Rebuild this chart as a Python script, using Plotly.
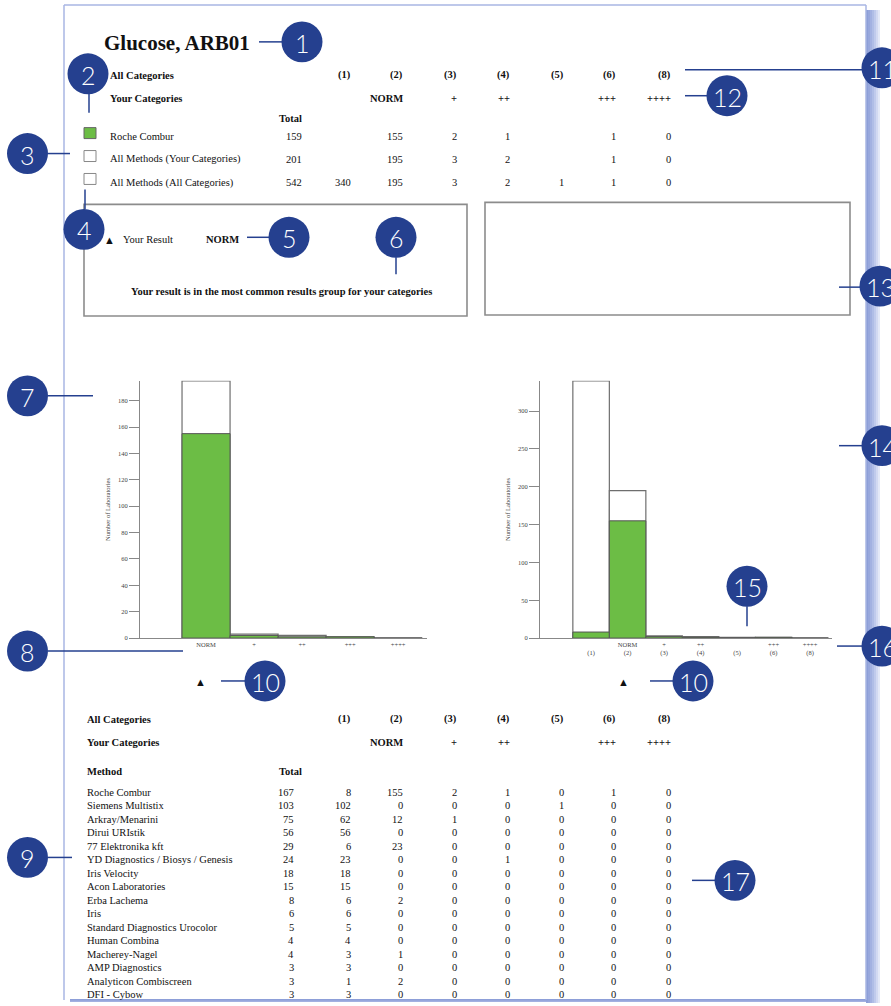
import plotly.graph_objects as go

# ---------------- data ----------------
title_text = "Glucose, ARB01"
all_cat_labels = ["(1)", "(2)", "(3)", "(4)", "(5)", "(6)", "(8)"]
your_cat_labels = ["", "NORM", "+", "++", "", "+++", "++++"]

summary_names = ["Roche Combur", "All Methods (Your Categories)", "All Methods (All Categories)"]
summary_totals = [159, 201, 542]
summary_roche = [None, 155, 2, 1, None, 1, 0]
summary_your = [None, 195, 3, 2, None, 1, 0]
summary_all = [340, 195, 3, 2, 1, 1, 0]

your_result = "NORM"
result_message = "Your result is in the most common results group for your categories"

# left chart (your categories)
left_cats = ["NORM", "+", "++", "+++", "++++"]
left_all_methods = [195, 3, 2, 1, 0]
left_roche = [155, 2, 1, 1, 0]

# right chart (all categories)
right_cats = [" <br>(1)", "NORM<br>(2)", "+<br>(3)", "++<br>(4)", " <br>(5)", "+++<br>(6)", "++++<br>(8)"]
right_all_methods = [340, 195, 3, 2, 1, 1, 0]
right_roche = [8, 155, 2, 1, 0, 1, 0]

methods = ["Roche Combur", "Siemens Multistix", "Arkray/Menarini", "Dirui URIstik",
           "77 Elektronika kft", "YD Diagnostics / Biosys / Genesis", "Iris Velocity",
           "Acon Laboratories", "Erba Lachema", "Iris", "Standard Diagnostics Urocolor",
           "Human Combina", "Macherey-Nagel", "AMP Diagnostics", "Analyticon Combiscreen",
           "DFI - Cybow"]
method_totals = [167, 103, 75, 56, 29, 24, 18, 15, 8, 6, 5, 4, 4, 3, 3, 3]
cat1 = [8, 102, 62, 56, 6, 23, 18, 15, 6, 6, 5, 4, 3, 3, 1, 3]
cat2 = [155, 0, 12, 0, 23, 0, 0, 0, 2, 0, 0, 0, 1, 0, 2, 0]
cat3 = [2, 0, 1, 0, 0, 0, 0, 0, 0, 0, 0, 0, 0, 0, 0, 0]
cat4 = [1, 0, 0, 0, 0, 1, 0, 0, 0, 0, 0, 0, 0, 0, 0, 0]
cat5 = [0, 1, 0, 0, 0, 0, 0, 0, 0, 0, 0, 0, 0, 0, 0, 0]
cat6 = [1, 0, 0, 0, 0, 0, 0, 0, 0, 0, 0, 0, 0, 0, 0, 0]
cat8 = [0, 0, 0, 0, 0, 0, 0, 0, 0, 0, 0, 0, 0, 0, 0, 0]

# ---------------- styling / layout helpers ----------------
W, H = 891, 1006
SERIF = "Liberation Serif"
NAVY = "#25408f"
GREEN = "#6cbd45"
FRAME = "#a9b6e3"
TEXT_DY = 2.5   # serif glyphs sit high in their line box


def X(p):
    return p / W


def Y(p):
    return 1 - p / H


annotations = []
shapes = []


def txt(x, y, text, size=10.5, bold=False, anchor="left", color="#111", family=SERIF):
    if bold:
        text = "<b>" + text + "</b>"
    annotations.append(dict(xref="paper", yref="paper", x=X(x), y=Y(y + TEXT_DY), text=text,
                            showarrow=False, xanchor=anchor, yanchor="middle",
                            font=dict(family=family, size=size, color=color)))


def rect(x0, y0, x1, y1, line="#888", width=1.5, fill="rgba(0,0,0,0)", layer="above"):
    shapes.append(dict(type="rect", xref="paper", yref="paper", x0=X(x0), x1=X(x1),
                       y0=Y(y0), y1=Y(y1), line=dict(color=line, width=width),
                       fillcolor=fill, layer=layer))


def line(x0, y0, x1, y1, color=NAVY, width=1.5, layer="above"):
    shapes.append(dict(type="line", xref="paper", yref="paper", x0=X(x0), x1=X(x1),
                       y0=Y(y0), y1=Y(y1), line=dict(color=color, width=width), layer=layer))


# ---------------- page frame ----------------
shadow_cols = ["#8d9fd8", "#97a7dc", "#a3b1e1", "#b0bde6", "#c0caec", "#d2d9f2", "#e4e8f7"]
for i, c in enumerate(shadow_cols):
    x0 = 866 + i * 2
    rect(x0, 10, x0 + 2, 1006, line=c, width=0, fill=c, layer="below")
for i, c in enumerate(shadow_cols[:3]):
    rect(70, 1002 + i, 866, 1003 + i, line=c, width=0, fill=c, layer="below")
line(64, 5, 866, 5, color=FRAME, width=1.5, layer="below")
line(64, 5, 64, 1003, color=FRAME, width=1.5, layer="below")
line(866, 5, 866, 1003, color=FRAME, width=1.5, layer="below")

# ---------------- title ----------------
txt(102, 41, title_text, size=21, bold=True)

# ---------------- summary table ----------------
col_right = [353, 405, 459, 512, 566, 618, 673]
txt(108, 73, "All Categories", bold=True)
txt(108, 96, "Your Categories", bold=True)
for cx, lab, ylab in zip(col_right, all_cat_labels, your_cat_labels):
    txt(cx, 73, lab, bold=True, anchor="right")
    if ylab:
        txt(cx, 96, ylab, bold=True, anchor="right")
txt(304, 116, "Total", bold=True, anchor="right")
row_y = [134, 157, 181]
for ry, name, tot, vals in zip(row_y, summary_names, summary_totals,
                               [summary_roche, summary_your, summary_all]):
    txt(108, ry, name)
    txt(304, ry, str(tot), anchor="right")
    for cx, v in zip(col_right, vals):
        if v is not None:
            txt(cx, ry, str(v), anchor="right")
# key boxes
rect(84, 128, 96, 139, line="#666", width=1, fill=GREEN)
rect(84, 151, 96, 162, line="#888", width=1, fill="white")
rect(84, 174, 96, 185, line="#888", width=1, fill="white")

# ---------------- result boxes ----------------
rect(84, 205, 467, 317, line="#8c8c8c", width=1.6)
rect(485, 203, 850, 316, line="#8c8c8c", width=1.6)
txt(102, 238, "▲", size=11)
txt(121, 238, "Your Result")
txt(204, 238, your_result, bold=True)
txt(281, 290, result_message, bold=True, anchor="center")

# ---------------- bottom table ----------------
txt(85, 719, "All Categories", bold=True)
txt(85, 742, "Your Categories", bold=True)
for cx, lab, ylab in zip(col_right, all_cat_labels, your_cat_labels):
    txt(cx, 719, lab, bold=True, anchor="right")
    if ylab:
        txt(cx, 742, ylab, bold=True, anchor="right")
txt(85, 771, "Method", bold=True)
txt(304, 771, "Total", bold=True, anchor="right")
cols = [cat1, cat2, cat3, cat4, cat5, cat6, cat8]
for i, name in enumerate(methods):
    ry = 792 + i * 13.55
    txt(85, ry, name)
    txt(296, ry, str(method_totals[i]), anchor="right")
    for cx, col in zip(col_right, cols):
        txt(cx, ry, str(col[i]), anchor="right")

# ---------------- charts ----------------
fig = go.Figure()
left_x = list(range(len(left_cats)))
right_x = list(range(len(right_cats)))

fig.add_trace(go.Bar(x=left_x, y=left_all_methods, width=1, xaxis="x", yaxis="y",
                     marker=dict(color="white", line=dict(color="#6e6e6e", width=1.2)),
                     name="All Methods"))
fig.add_trace(go.Bar(x=left_x, y=left_roche, width=1, xaxis="x", yaxis="y",
                     marker=dict(color=GREEN, line=dict(color="#555", width=1)),
                     name="Roche Combur"))
fig.add_trace(go.Bar(x=right_x, y=right_all_methods, width=1, xaxis="x2", yaxis="y2",
                     marker=dict(color="white", line=dict(color="#6e6e6e", width=1.2)),
                     name="All Methods"))
fig.add_trace(go.Bar(x=right_x, y=right_roche, width=1, xaxis="x2", yaxis="y2",
                     marker=dict(color=GREEN, line=dict(color="#555", width=1)),
                     name="Roche Combur"))

tick_font = dict(family=SERIF, size=6.5, color="#444")
ydom = [Y(640), Y(382)]
common_x = dict(showgrid=False, zeroline=False, showline=True, linecolor="#888",
                linewidth=1, ticks="", tickfont=tick_font, fixedrange=True)
common_y = dict(showgrid=False, zeroline=False, showline=True, linecolor="#888",
                linewidth=1, ticks="outside", ticklen=10, tickcolor="#888",
                tickfont=tick_font, fixedrange=True,
                title=dict(text="Number of Laboratories", font=tick_font, standoff=6))

# triangles marking "your result" under each chart
your_left_idx = left_cats.index(your_result)
your_right_idx = [c.split("<br>")[0] for c in right_cats].index(your_result)
for xr, xi in (("x", your_left_idx), ("x2", your_right_idx)):
    annotations.append(dict(xref=xr, yref="paper", x=xi - 0.12, y=Y(684), text="▲",
                            showarrow=False, xanchor="center", yanchor="middle",
                            font=dict(family=SERIF, size=11, color="#111")))

# ---------------- callouts ----------------
callouts = [
    ("1", 302, 42, [(259, 42, 282, 42)]),
    ("2", 88, 74, [(89, 94, 89, 113)]),
    ("3", 27.5, 154, [(48, 154, 70, 154)]),
    ("4", 84, 230, [(85, 190, 85, 210)]),
    ("5", 289, 238, [(247, 238, 269, 238)]),
    ("6", 396, 238, [(396, 258, 396, 275)]),
    ("7", 27.5, 397, [(48, 397, 93, 397)]),
    ("8", 27.5, 653, [(48, 653, 183, 653)]),
    ("9", 27.5, 860, [(48, 860, 72, 860)]),
    ("10", 265, 683, [(221, 683, 245, 683)]),
    ("10", 693, 683, [(650, 683, 673, 683)]),
    ("11", 882, 68, [(685, 70, 862, 70)]),
    ("12", 727, 96, [(685, 96, 707, 96)]),
    ("13", 880, 287, [(839, 288, 860, 288)]),
    ("14", 882, 447, [(839, 447, 862, 447)]),
    ("15", 747, 588, [(747, 608, 747, 628)]),
    ("16", 882, 648, [(837, 648, 862, 648)]),
    ("17", 735, 883, [(692, 883, 715, 883)]),
]
R = 20.5
for lab, cx, cy, segs in callouts:
    for s in segs:
        line(*s, color=NAVY, width=1.5)
    shapes.append(dict(type="circle", xref="paper", yref="paper",
                       x0=X(cx - R), x1=X(cx + R), y0=Y(cy + R), y1=Y(cy - R),
                       fillcolor=NAVY, line=dict(color=NAVY, width=0), layer="above"))
    annotations.append(dict(xref="paper", yref="paper", x=X(cx), y=Y(cy + 1), text=lab,
                            showarrow=False, xanchor="center", yanchor="middle",
                            font=dict(family="Lato", size=25, color="white", weight=300)))

fig.update_layout(
    width=W, height=H,
    margin=dict(l=0, r=0, t=0, b=0),
    paper_bgcolor="white", plot_bgcolor="white",
    showlegend=False, barmode="overlay",
    xaxis=dict(domain=[X(140), X(427)], range=[-1.375, 4.6], anchor="y",
               tickvals=left_x, ticktext=left_cats, **common_x),
    yaxis=dict(domain=ydom, range=[0, 195], anchor="x",
               tickvals=list(range(0, 181, 20)), **common_y),
    xaxis2=dict(domain=[X(540), X(832)], range=[-1.4, 6.6], anchor="y2",
                tickvals=right_x, ticktext=right_cats, **common_x),
    yaxis2=dict(domain=ydom, range=[0, 340], anchor="x2",
                tickvals=list(range(0, 301, 50)), **common_y),
    shapes=shapes,
    annotations=annotations,
)

fig.write_html("out.html", config={"displayModeBar": False},
               post_script="document.body.style.margin='0';document.body.style.overflow='hidden';")
